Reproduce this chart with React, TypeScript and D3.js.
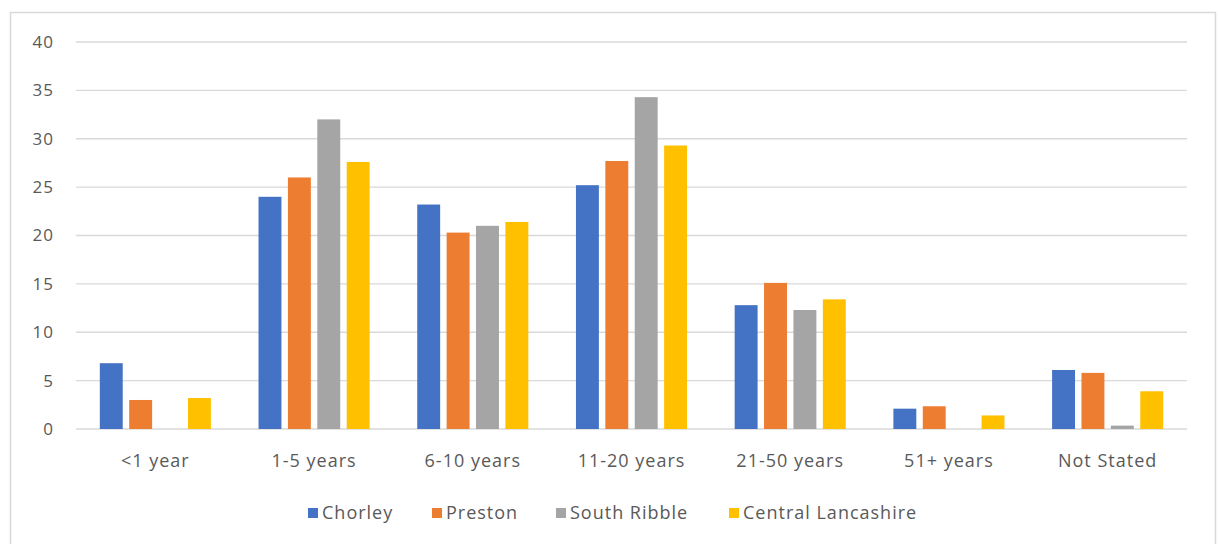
import React from "react";
import * as d3 from "d3";

const categories = ["<1 year", "1-5 years", "6-10 years", "11-20 years", "21-50 years", "51+ years", "Not Stated"];
const seriesNames = ["Chorley", "Preston", "South Ribble", "Central Lancashire"];
const chorley = [6.8, 24.0, 23.2, 25.2, 12.8, 2.1, 6.1];
const preston = [3.0, 26.0, 20.3, 27.7, 15.1, 2.35, 5.8];
const southRibble = [0, 32.0, 21.0, 34.3, 12.3, 0, 0.35];
const centralLancashire = [3.2, 27.6, 21.4, 29.3, 13.4, 1.4, 3.9];
const yTicks = [0, 5, 10, 15, 20, 25, 30, 35, 40];
const colors = ["#4472C4", "#ED7D31", "#A5A5A5", "#FFC000"];

const W = 1218;
const H = 544;
const left = 76;
const right = 1187;
const top = 42;
const bottom = 429;

export default function App() {
  const seriesVals = [chorley, preston, southRibble, centralLancashire];
  const x = d3.scaleBand<string>().domain(categories).range([left, right]).paddingInner(0.3).paddingOuter(0.15);
  const xs = d3.scaleBand<string>().domain(seriesNames).range([0, x.bandwidth()]).paddingInner(0.22);
  const y = d3.scaleLinear().domain([0, 40]).range([bottom, top]);
  const font = "'Open Sans', 'Liberation Sans', sans-serif";
  const legendX = [308, 432, 556, 729];
  return (
    <svg width={W} height={H} style={{ position: "absolute", left: 0, top: 0, background: "#fff" }} fontFamily={font}>
      <rect x={10.5} y={12.5} width={1205} height={600} fill="#fff" stroke="#D9D9D9" strokeWidth={1.5} />
      {yTicks.map((t) => (
        <g key={t}>
          <line x1={left} x2={right} y1={y(t)} y2={y(t)} stroke="#D9D9D9" strokeWidth={1.3} />
          <text x={54} y={y(t)} dy="0.35em" textAnchor="end" fontSize={17} letterSpacing={1} fill="#595959">{t}</text>
        </g>
      ))}
      {seriesVals.map((vals, si) =>
        categories.map((c, ci) => (
          <rect key={si + "-" + ci}
            x={(x(c) as number) + (xs(seriesNames[si]) as number)}
            y={y(vals[ci])}
            width={xs.bandwidth()}
            height={y(0) - y(vals[ci])}
            fill={colors[si]} />
        ))
      )}
      {categories.map((c) => (
        <text key={c} x={(x(c) as number) + x.bandwidth() / 2} y={461} dy="0.35em" textAnchor="middle" fontSize={18} letterSpacing={1} fill="#595959">{c}</text>
      ))}
      {seriesNames.map((s, i) => (
        <g key={s}>
          <rect x={legendX[i]} y={508} width={10} height={10} fill={colors[i]} />
          <text x={legendX[i] + 14} y={513} dy="0.35em" fontSize={18} letterSpacing={1} fill="#595959">{s}</text>
        </g>
      ))}
    </svg>
  );
}
